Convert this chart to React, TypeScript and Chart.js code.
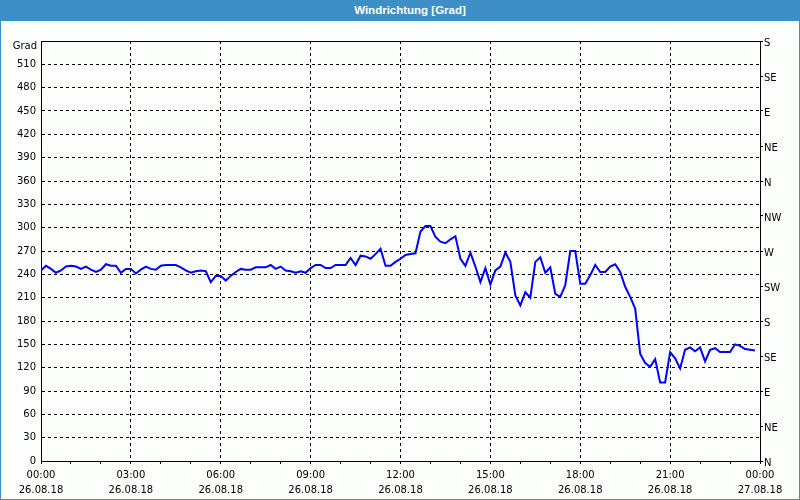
import React, { useEffect, useRef } from "react";
import { Chart, registerables } from "chart.js";

Chart.register(...registerables);

const chartTitle = "Windrichtung [Grad]";
const unitLabel = "Grad";
const startDate = "26.08.18";
const endDate = "27.08.18";
const sampleMinutes = 10;
const yMax = 540;
const yStep = 30;
const compassStep = 45;
const compassLabels = ["N", "NE", "E", "SE", "S", "SW", "W", "NW", "N", "NE", "E", "SE", "S"];

// wind direction in degrees, one value every 10 minutes from 00:00
const windDirection = [
  245, 251, 247, 242, 245, 250, 251, 250, 247, 250,
  246, 243, 246, 253, 251, 251, 242, 247, 247, 241,
  246, 250, 247, 246, 251, 252, 252, 252, 249, 245,
  242, 244, 245, 244, 230, 238, 238, 232, 238, 243,
  247, 246, 246, 249, 249, 249, 252, 247, 250, 245,
  244, 242, 244, 242, 248, 252, 252, 248, 248, 252,
  252, 252, 261, 252, 264, 263, 260, 266, 273, 251,
  251, 256, 260, 265, 266, 267, 295, 302, 302, 288,
  282, 280, 285, 289, 260, 251, 268, 250, 230, 248,
  227, 245, 250, 268, 256, 213, 200, 217, 210, 256,
  262, 242, 249, 215, 211, 226, 270, 270, 228, 228,
  239, 252, 243, 243, 250, 253, 243, 224, 211, 196,
  138, 126, 121, 131, 101, 101, 140, 132, 119, 143,
  146, 141, 146, 128, 143, 145, 140, 140, 140, 150,
  148, 144, 143, 142,
];

const FONT = "'DejaVu Sans', sans-serif";

export default function App() {
  const canvasRef = useRef<HTMLCanvasElement | null>(null);

  useEffect(() => {
    document.body.style.margin = "0";
    const canvas = canvasRef.current;
    if (!canvas) return;

    const points = windDirection.map((v, i) => ({ x: i * sampleMinutes, y: v }));

    const framePlugin = {
      id: "frame",
      beforeDatasetsDraw(chart: any) {
        const { ctx, chartArea: a } = chart;
        ctx.save();
        ctx.strokeStyle = "#000";
        ctx.lineWidth = 1;
        ctx.beginPath();
        const t = Math.round(a.top) + 0.5;
        ctx.moveTo(a.left, t);
        ctx.lineTo(a.right + 1, t);
        ctx.stroke();
        ctx.restore();
      },
      afterDraw(chart: any) {
        const { ctx, chartArea: a } = chart;
        const y = chart.scales.y.getPixelForValue(yMax);
        ctx.save();
        ctx.fillStyle = "#000";
        ctx.font = `10px ${FONT}`;
        ctx.textAlign = "right";
        ctx.textBaseline = "middle";
        ctx.fillText(unitLabel, a.left - 4, y + 5);
        ctx.restore();
      },
    };

    const chart = new Chart(canvas, {
      type: "line",
      data: {
        datasets: [
          {
            data: points,
            borderColor: "#0000ff",
            borderWidth: 2,
            pointRadius: 0,
            tension: 0,
            fill: false,
          },
        ],
      },
      options: {
        animation: false,
        responsive: false,
        events: [],
        layout: { padding: { top: 20, left: 0, right: 0, bottom: 0 } },
        plugins: { legend: { display: false }, tooltip: { enabled: false }, title: { display: false } },
        scales: {
          x: {
            type: "linear",
            min: 0,
            max: 1440,
            afterFit: (s: any) => {
              s.height = 38;
            },
            ticks: {
              stepSize: 60,
              autoSkip: false,
              maxRotation: 0,
              color: "#000",
              padding: 4,
              font: { family: FONT, size: 10, lineHeight: 1.5 },
              callback: (v: any) => {
                const m = Number(v);
                if (m % 180 !== 0) return "";
                const h = Math.floor(m / 60) % 24;
                const hh = (h < 10 ? "0" : "") + h + ":00";
                return [hh, m < 1440 ? startDate : endDate];
              },
            },
            grid: {
              drawTicks: true,
              tickLength: 3,
              tickColor: "#000",
              color: (c: any) => (c.tick && c.tick.value % 180 === 0 ? "#000" : "rgba(0,0,0,0)"),
              lineWidth: 1,
            },
            border: { display: true, color: "#000", width: 1, dash: [3, 3] },
          },
          y: {
            type: "linear",
            position: "left",
            min: 0,
            max: yMax,
            afterFit: (s: any) => {
              s.width = 40;
            },
            ticks: {
              stepSize: yStep,
              color: "#000",
              padding: 5,
              font: { family: FONT, size: 10 },
              callback: (v: any) => (Number(v) === yMax ? "" : String(v)),
            },
            grid: {
              drawTicks: false,
              color: (c: any) => (c.tick && c.tick.value === yMax ? "rgba(0,0,0,0)" : "#000"),
              lineWidth: 1,
            },
            border: { display: true, color: "#000", width: 1, dash: [3, 3] },
          },
          y2: {
            type: "linear",
            position: "right",
            min: 0,
            max: yMax,
            afterFit: (s: any) => {
              s.width = 39;
            },
            ticks: {
              stepSize: compassStep,
              color: "#000",
              padding: 1,
              labelOffset: 2,
              font: { family: FONT, size: 10 },
              callback: (v: any) => compassLabels[Math.round(Number(v) / compassStep)] ?? "",
            },
            grid: {
              drawOnChartArea: false,
              drawTicks: true,
              tickLength: 3,
              tickColor: "#000",
            },
            border: { display: true, color: "#000", width: 1 },
          },
        },
      },
      plugins: [framePlugin],
    } as any);

    return () => chart.destroy();
  }, []);

  return (
    <div
      style={{
        position: "relative",
        width: 800,
        height: 500,
        background: "#3d8fc6",
        overflow: "hidden",
      }}
    >
      <div
        style={{
          position: "absolute",
          left: 0,
          top: 0,
          width: 800,
          height: 21,
          lineHeight: "21px",
          textAlign: "center",
          color: "#fff",
          fontFamily: "'Liberation Sans', Arial, sans-serif",
          fontWeight: "bold",
          fontSize: 11.5,
          paddingLeft: 20,
          boxSizing: "border-box",
        }}
      >
        {chartTitle}
      </div>
      <div
        style={{
          position: "absolute",
          left: 1,
          top: 21,
          width: 798,
          height: 478,
          background: "#fcfefc",
        }}
      >
        <canvas ref={canvasRef} width={798} height={478} style={{ display: "block" }} />
      </div>
    </div>
  );
}
